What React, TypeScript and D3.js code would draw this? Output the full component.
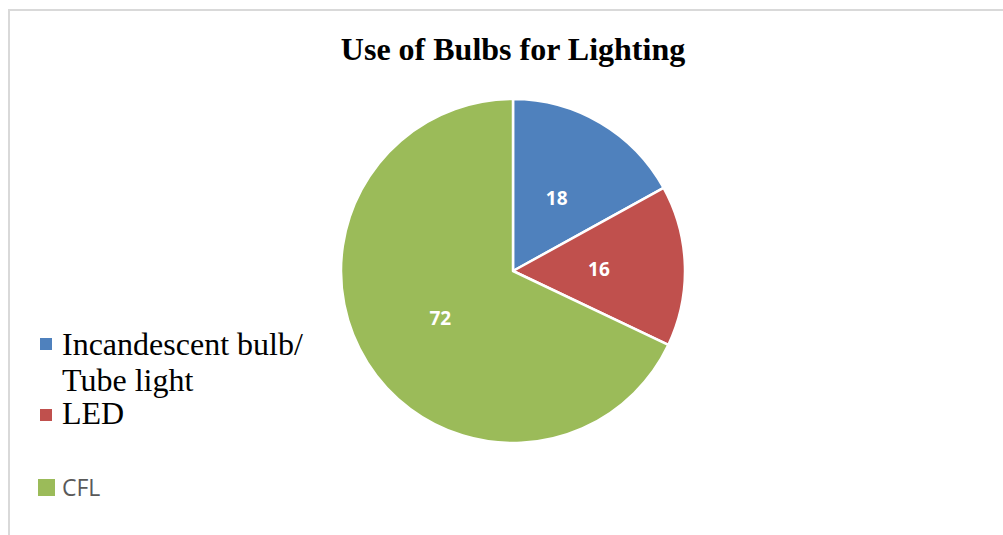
import React from "react";
import * as d3 from "d3";

const categories = ["Incandescent bulb/ Tube light", "LED", "CFL"];
const values = [18, 16, 72];
const colors = ["#4f81bd", "#c0504d", "#9bbb59"];

export default function App() {
  const W = 1003, H = 535;
  const cx = 513, cy = 271, r = 172;
  const pie = d3.pie<number>().sort(null).value((d) => d)(values);
  const arc = d3.arc<d3.PieArcDatum<number>>().innerRadius(0).outerRadius(r);
  const labelArc = d3.arc<d3.PieArcDatum<number>>().innerRadius(0).outerRadius(r);

  return (
    <svg width={W} height={H} style={{ position: "absolute", left: 0, top: 0 }}>
      <rect x={0} y={0} width={W} height={H} fill="#fff" />
      <path d={`M9,${H} V10 H${W}`} fill="none" stroke="#d9d9d9" strokeWidth={2} />
      <text x={513} y={60} textAnchor="middle" fontFamily="Liberation Serif" fontWeight="bold" fontSize={32} fill="#000">
        Use of Bulbs for Lighting
      </text>
      <g transform={`translate(${cx},${cy})`}>
        {pie.map((p, i) => (
          <path key={i} d={arc(p) || ""} fill={colors[i]} stroke="#fff" strokeWidth={2.5} strokeLinejoin="round" />
        ))}
        {pie.map((p, i) => {
          const [x, y] = labelArc.centroid(p);
          return (
            <text key={"l" + i} x={x} y={y} dy="0.4em" textAnchor="middle" fontFamily="Open Sans" fontWeight="bold" fontSize={19} fill="#fff">
              {values[i]}
            </text>
          );
        })}
      </g>
      <g>
        <rect x={40} y={338} width={12} height={12} fill={colors[0]} />
        <text x={62} y={355} fontFamily="Liberation Serif" fontSize={32} fill="#000">Incandescent bulb/</text>
        <text x={62} y={391} fontFamily="Liberation Serif" fontSize={32} fill="#000">Tube light</text>
        <rect x={40} y={409} width={12} height={12} fill={colors[1]} />
        <text x={62} y={424} fontFamily="Liberation Serif" fontSize={32} fill="#000">{categories[1]}</text>
        <rect x={38} y={479} width={17} height={17} fill={colors[2]} />
        <text x={62} y={496} fontFamily="Open Sans" fontSize={23} fill="#595959">{categories[2]}</text>
      </g>
    </svg>
  );
}
